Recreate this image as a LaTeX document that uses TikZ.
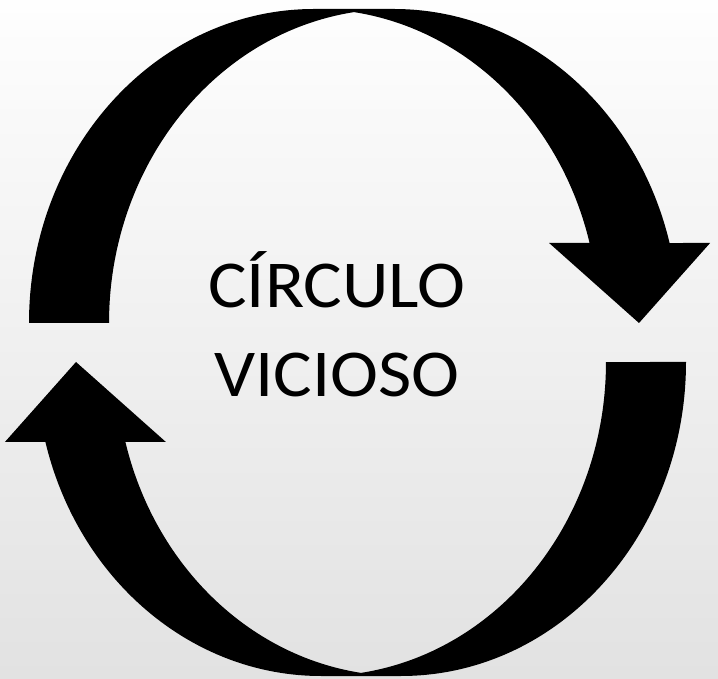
\documentclass[tikz,border=0pt]{standalone}
\usepackage{fontspec}
\setmainfont{Carlito}[FakeStretch=1.08]
\definecolor{bgtop}{RGB}{254,254,254}
\definecolor{bgbot}{RGB}{226,226,226}
\tikzset{
  arrowfill/.style={fill=black, draw=none},
  label/.style={inner sep=0pt, anchor=base, font=\fontsize{67}{89}\selectfont}
}
\begin{document}
\begin{tikzpicture}[x=1pt,y=1pt]
\useasboundingbox (0,0) rectangle (718,678);
\shade[top color=bgtop, bottom color=bgbot] (0,0) rectangle (718,678);
% top arrow (clockwise, pointing down on the right)
\fill[arrowfill] (29,355)
  arc[start angle=180, end angle=90, x radius=285pt, y radius=314pt]
  -- (394,669)
  arc[start angle=90, end angle=14.76, x radius=285pt, y radius=314pt]
  -- (710.1,435) -- (639,355) -- (549.1,435) -- (589.6,435)
  arc[start angle=14.76, end angle=81.93, x radius=285pt, y radius=314pt]
  arc[start angle=98.07, end angle=180, x radius=285pt, y radius=314pt]
  -- cycle;
% bottom arrow (pointing up on the left)
\fill[arrowfill] (686,316)
  arc[start angle=0, end angle=-90, x radius=285pt, y radius=314pt]
  -- (321,2)
  arc[start angle=-90, end angle=-165.24, x radius=285pt, y radius=314pt]
  -- (4.9,236) -- (76,316) -- (165.9,236) -- (125.4,236)
  arc[start angle=-165.24, end angle=-98.07, x radius=285pt, y radius=314pt]
  arc[start angle=-81.93, end angle=0, x radius=285pt, y radius=314pt]
  -- cycle;
\node[label] (line1) at (337,370) {CÍRCULO};
\node[label] (line2) at (337,281) {VICIOSO};
\end{tikzpicture}
\end{document}
